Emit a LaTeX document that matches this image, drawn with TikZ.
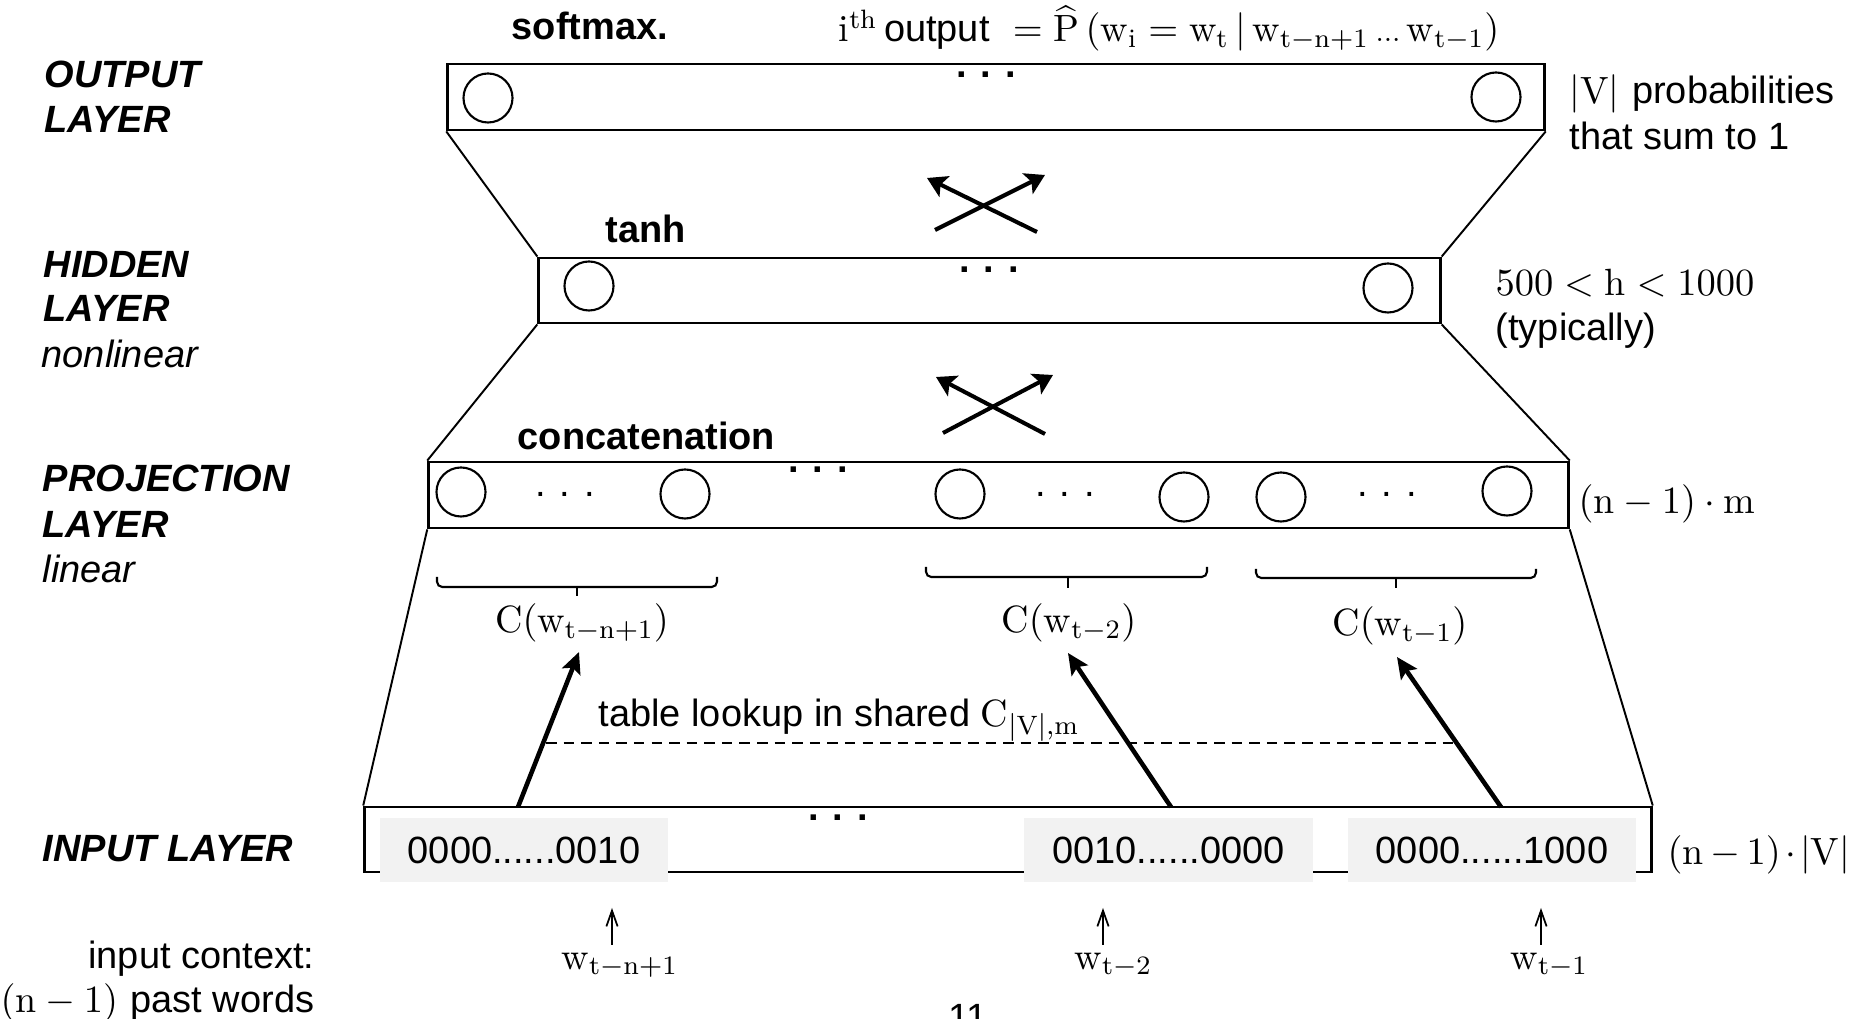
\documentclass[tikz,border=0pt]{standalone}
\usepackage{fontspec}
\setsansfont{Liberation Sans}
\usetikzlibrary{arrows.meta}

\tikzset{
  txt/.style={font=\sffamily\fontsize{10.8}{13}\selectfont, inner sep=0pt},
  btxt/.style={font=\sffamily\bfseries\fontsize{10.8}{13}\selectfont, inner sep=0pt, anchor=base west},
  layername/.style={font=\sffamily\bfseries\itshape\fontsize{10.8}{13}\selectfont, inner sep=0pt, anchor=base west},
  itxt/.style={font=\sffamily\itshape\fontsize{10.8}{13}\selectfont, inner sep=0pt, anchor=base west},
  mtxt/.style={font=\fontsize{10.8}{13}\selectfont, inner sep=0pt},
  layerbox/.style={draw, line width=0.8pt, inner sep=0pt, minimum height=0.66cm},
  neuron/.style={draw, circle, line width=0.6pt, minimum size=0.49cm, inner sep=0pt},
  trap/.style={line width=0.55pt},
  bits/.style={fill=black!5, inner sep=0pt, minimum width=2.88cm, minimum height=0.64cm,
               font=\sffamily\fontsize{10.8}{13}\selectfont},
  brk/.style={line width=0.6pt, rounded corners=1.5pt},
  lookup/.style={line width=1.3pt, -{Stealth[length=6pt,width=5.5pt,inset=1.2pt]}},
  cross/.style={line width=1.15pt, -{Stealth[length=5.5pt,width=6.5pt,inset=1.2pt]}},
  uparr/.style={line width=0.5pt, -{Straight Barb[length=4.5pt,width=3.2pt]}},
  dotsb/.style={font=\sffamily\bfseries\fontsize{10.8}{13}\selectfont, inner sep=0pt, anchor=base},
  dotss/.style={font=\sffamily\fontsize{10.8}{13}\selectfont, inner sep=0pt, anchor=base},
  dashline/.style={line width=0.7pt, dash pattern=on 3pt off 2pt},
}

\begin{document}
\begin{tikzpicture}[x=0.01cm, y=-0.01cm]
\useasboundingbox (0,0) rectangle (1862,1019);

% ---------- layer boxes ----------
\node[layerbox, minimum width=10.96cm] (out) at (996,97) {};
\node[layerbox, minimum width=9.01cm, minimum height=0.65cm] (hid) at (989.5,290.5) {};
\node[layerbox, minimum width=11.39cm] (proj) at (998.5,495) {};
\node[layerbox, minimum width=12.86cm, minimum height=0.65cm] (inp) at (1008,839.5) {};

% ---------- trapezoid sides ----------
\draw[trap] (out.south west) -- (hid.north west);
\draw[trap] (out.south east) -- (hid.north east);
\draw[trap] (hid.south west) -- (proj.north west);
\draw[trap] (hid.south east) -- (proj.north east);
\draw[trap] (proj.south west) -- (inp.north west);
\draw[trap] (proj.south east) -- (inp.north east);

% ---------- neurons ----------
\node[neuron] (o1) at (488,98) {};
\node[neuron] (o2) at (1496,97) {};
\node[neuron] (h1) at (589,286) {};
\node[neuron] (h2) at (1388,288) {};
\node[neuron] (p1) at (461,492) {};
\node[neuron] (p2) at (685,494) {};
\node[neuron] (p3) at (960,494) {};
\node[neuron] (p4) at (1184,497) {};
\node[neuron] (p5) at (1281,497) {};
\node[neuron] (p6) at (1507,491) {};

% ---------- dots ----------
\node[dotsb] (od) at (986,78) {. . .};
\node[dotsb] (hd) at (989,273) {. . .};
\node[dotsb] (pd) at (818,473) {. . .};
\node[dotsb] (id) at (838,821) {. . .};
\node[dotss] (ps1) at (565,497) {. . .};
\node[dotss] (ps2) at (1065,497) {. . .};
\node[dotss] (ps3) at (1387,497) {. . .};

% ---------- crossing arrows ----------
\coordinate (ua1) at (935,230); \coordinate (ua2) at (1045,175);
\coordinate (ub1) at (1037,232); \coordinate (ub2) at (927,178);
\draw[cross] (ua1) -- (ua2);
\draw[cross] (ub1) -- (ub2);
\coordinate (la1) at (943,433); \coordinate (la2) at (1053,375);
\coordinate (lb1) at (1045,434); \coordinate (lb2) at (936,377);
\draw[cross] (la1) -- (la2);
\draw[cross] (lb1) -- (lb2);

% ---------- top labels ----------
\node[btxt] (softmax) at (511,40) {softmax.};
\node[mtxt, anchor=base west] (form) at (838,42)
  {$\mathrm{i}^{\mathrm{th}}$\,{\sffamily output}\; $=\widehat{\mathrm{P}}\,(\mathrm{w_i}=\mathrm{w_t}\,|\,\mathrm{w_{t-n+1}}\,{\scriptstyle\ldotp\ldotp\ldotp}\,\mathrm{w_{t-1}})$};
\node[btxt] (tanh) at (605,243) {tanh};
\node[btxt] (concat) at (517,450) {concatenation};

% ---------- left labels ----------
\node[layername] (l1a) at (44,88) {OUTPUT};
\node[layername] (l1b) at (44,133) {LAYER};
\node[layername] (l2a) at (43,278) {HIDDEN};
\node[layername] (l2b) at (43,322) {LAYER};
\node[itxt] (l2c) at (41,368) {nonlinear};
\node[layername] (l3a) at (42,492) {PROJECTION};
\node[layername] (l3b) at (42,538) {LAYER};
\node[itxt] (l3c) at (42,583) {linear};
\node[layername] (l4) at (42,862) {INPUT LAYER};
\node[txt, anchor=base east] (ctx1) at (315,969) {input context:};
\node[mtxt, anchor=base east] (ctx2) at (315,1013) {$(\mathrm{n}-1)$ {\sffamily past words}};

% ---------- right labels ----------
\node[mtxt, anchor=base west] (r1a) at (1569,104) {$|\mathrm{V}|$ {\sffamily probabilities}};
\node[txt, anchor=base west] (r1b) at (1569,150) {that sum to 1};
\node[mtxt, anchor=base west] (r2a) at (1495,296) {$500<\mathrm{h}<1000$};
\node[txt, anchor=base west] (r2b) at (1495,341) {(typically)};
\node[mtxt, anchor=base west] (r3) at (1578,514) {$(\mathrm{n}-1)\cdot\mathrm{m}$};
\node[mtxt, anchor=base west] (r4) at (1667,865) {$(\mathrm{n}\mkern-1mu-\mkern-1mu1)\mkern-2mu\cdot\mkern-2mu|\mathrm{V}|$};

% ---------- brackets ----------
\draw[brk] (437,577) -- (437,587) -- (717,587) -- (717,577);
\draw[line width=0.6pt] (577,587) -- (577,596);
\draw[brk] (926,567) -- (926,577) -- (1207,577) -- (1207,567);
\draw[line width=0.6pt] (1068,577) -- (1068,588);
\draw[brk] (1256,569) -- (1256,578) -- (1536,578) -- (1536,569);
\draw[line width=0.6pt] (1396,578) -- (1396,588);

\node[mtxt, anchor=base] (c1) at (582,633) {$\mathrm{C}(\mathrm{w_{t-n+1}})$};
\node[mtxt, anchor=base] (c2) at (1069,633) {$\mathrm{C}(\mathrm{w_{t-2}})$};
\node[mtxt, anchor=base] (c3) at (1400,636) {$\mathrm{C}(\mathrm{w_{t-1}})$};

% ---------- table lookup ----------
\node[txt, anchor=base west] (lookup) at (598,727) {table lookup in shared $\mathrm{C}_{|\mathrm{V}|,\mathrm{m}}$};
\coordinate (dl) at (546,743); \coordinate (dr) at (1453,743);
\draw[dashline] (dl) -- (dr);

\coordinate (i1) at (518,807); \coordinate (t1) at (579,652);
\coordinate (i2) at (1171,807); \coordinate (t2) at (1068,653);
\coordinate (i3) at (1501,807); \coordinate (t3) at (1397,657);
\draw[lookup] (i1) -- (t1);
\draw[lookup] (i2) -- (t2);
\draw[lookup] (i3) -- (t3);

% ---------- one-hot inputs ----------
\node[bits] (b1) at (524,850) {0000......0010};
\node[bits] (b2) at (1168.5,850) {0010......0000};
\node[bits] (b3) at (1492,850) {0000......1000};

% ---------- input words ----------
\node[mtxt, anchor=north west] (w1) at (561,952) {$\mathrm{w_{t-n+1}}$};
\node[mtxt, anchor=north west] (w2) at (1074,952) {$\mathrm{w_{t-2}}$};
\node[mtxt, anchor=north west] (w3) at (1510,952) {$\mathrm{w_{t-1}}$};
\coordinate (a1s) at (612,945); \coordinate (a1e) at (612,908);
\coordinate (a2s) at (1103,945); \coordinate (a2e) at (1103,908);
\coordinate (a3s) at (1541,945); \coordinate (a3e) at (1541,908);
\draw[uparr] (a1s) -- (a1e);
\draw[uparr] (a2s) -- (a2e);
\draw[uparr] (a3s) -- (a3e);

% ---------- page number ----------
\node[txt, anchor=north] (pg) at (968,1004) {11};
\end{tikzpicture}
\end{document}
